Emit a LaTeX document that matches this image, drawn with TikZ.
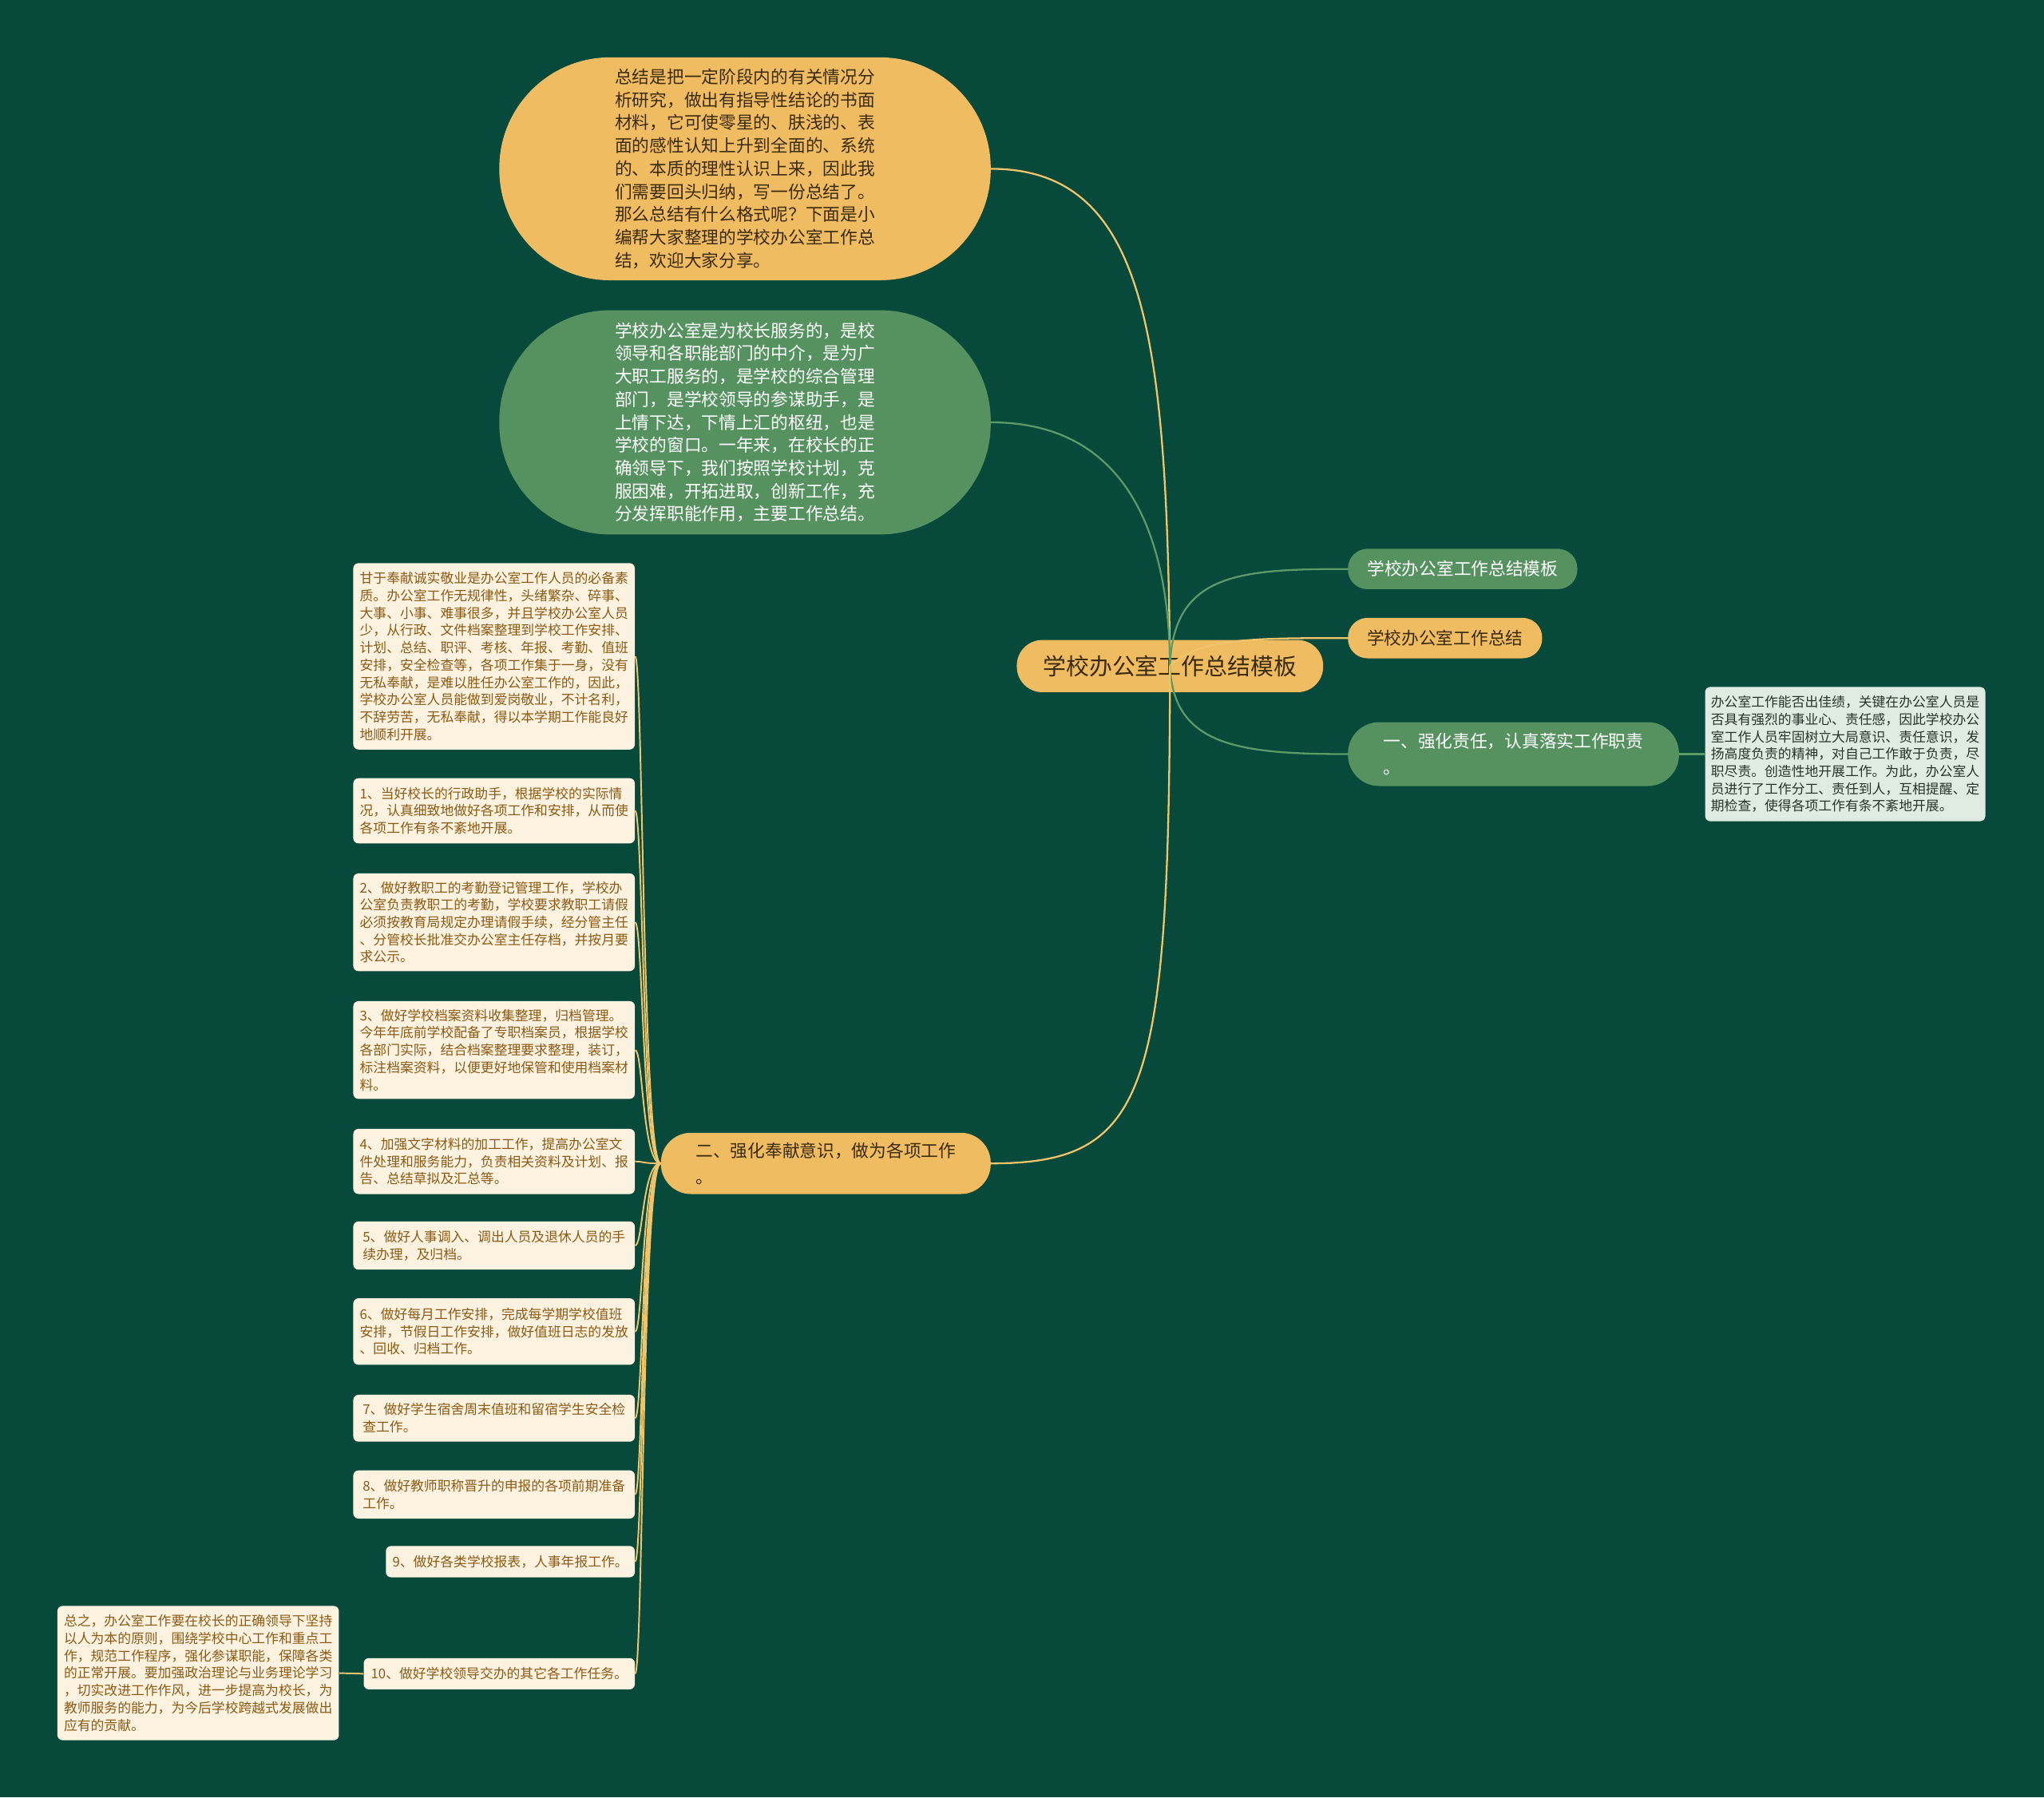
\documentclass[tikz,border=0pt]{standalone}
\usepackage{fontspec}
\setmainfont{Noto Sans CJK SC}
\definecolor{bg}{RGB}{7,73,58}
\definecolor{org}{RGB}{240,188,98}
\definecolor{grn}{RGB}{86,146,96}
\definecolor{cream}{RGB}{252,242,224}
\definecolor{brown}{RGB}{140,90,20}
\definecolor{dk}{RGB}{58,42,14}
\definecolor{note}{RGB}{224,236,226}
\definecolor{notetxt}{RGB}{40,52,42}
\definecolor{oline}{RGB}{240,196,106}
\definecolor{gline}{RGB}{92,154,104}
\newcommand\fsz[2]{\fontsize{#1}{#2}\selectfont}
\begin{document}
\begin{tikzpicture}[x=1pt,y=-1pt,
  pill/.style={draw=none,align=left,inner sep=0pt},
  leaf/.style={fill=cream,rounded corners=4pt,align=left,inner sep=0pt,text=brown,font=\fsz{10.3}{13.3}},
  oedge/.style={draw=oline,line width=1.4pt},
  gedge/.style={draw=gline,line width=1.4pt},
  ledge/.style={draw=oline,line width=1.2pt}]
\fill[bg] (0,0) rectangle (1568,1379);
\useasboundingbox (0,0) rectangle (1568,1379);

% top bubbles
\node[pill,fill=org,text=dk,minimum width=377pt,minimum height=171pt,rounded corners=85pt,font=\fsz{13.3}{17.6}] (b1) at (571.5,129.5) {总结是把一定阶段内的有关情况分\\析研究，做出有指导性结论的书面\\材料，它可使零星的、肤浅的、表\\面的感性认知上升到全面的、系统\\的、本质的理性认识上来，因此我\\们需要回头归纳，写一份总结了。\\那么总结有什么格式呢？下面是小\\编帮大家整理的学校办公室工作总\\结，欢迎大家分享。};
\node[pill,fill=grn,text=white,minimum width=377pt,minimum height=172pt,rounded corners=85pt,font=\fsz{13.3}{17.6}] (b2) at (571.5,324) {学校办公室是为校长服务的，是校\\领导和各职能部门的中介，是为广\\大职工服务的，是学校的综合管理\\部门，是学校领导的参谋助手，是\\上情下达，下情上汇的枢纽，也是\\学校的窗口。一年来，在校长的正\\确领导下，我们按照学校计划，克\\服困难，开拓进取，创新工作，充\\分发挥职能作用，主要工作总结。};

% root
\node[pill,fill=org,text=dk,minimum width=235pt,minimum height=40pt,rounded corners=19.5pt,font=\fsz{17.7}{20}] (root) at (897.5,511) {学校办公室工作总结模板};

% right nodes
\node[pill,fill=grn,text=white,minimum width=176pt,minimum height=31pt,rounded corners=15pt,font=\fsz{13.3}{17}] (A) at (1122,436.5) {学校办公室工作总结模板};
\node[pill,fill=org,text=dk,minimum width=149pt,minimum height=31pt,rounded corners=15pt,font=\fsz{13.3}{17}] (B) at (1108.5,489.5) {学校办公室工作总结};
\node[pill,fill=grn,text=white,minimum width=254pt,minimum height=49pt,rounded corners=24pt,font=\fsz{13.3}{20}] (C) at (1161,578.5) {一、强化责任，认真落实工作职责\\。};
\node[fill=note,rounded corners=4pt,align=left,inner sep=0pt,text=notetxt,font=\fsz{10.3}{13.3},minimum width=215pt,minimum height=103pt] (C1) at (1415.5,578.5) {办公室工作能否出佳绩，关键在办公室人员是\\否具有强烈的事业心、责任感，因此学校办公\\室工作人员牢固树立大局意识、责任意识，发\\扬高度负责的精神，对自己工作敢于负责，尽\\职尽责。创造性地开展工作。为此，办公室人\\员进行了工作分工、责任到人，互相提醒、定\\期检查，使得各项工作有条不紊地开展。};

% left node
\node[pill,fill=org,text=dk,minimum width=253pt,minimum height=47pt,rounded corners=23pt,font=\fsz{13.3}{20}] (D) at (633.5,892.5) {二、强化奉献意识，做为各项工作\\。};

% leaves
\node[leaf,minimum width=216pt,minimum height=143pt] (L0) at (379,503.5) {甘于奉献诚实敬业是办公室工作人员的必备素\\质。办公室工作无规律性，头绪繁杂、碎事、\\大事、小事、难事很多，并且学校办公室人员\\少，从行政、文件档案整理到学校工作安排、\\计划、总结、职评、考核、年报、考勤、值班\\安排，安全检查等，各项工作集于一身，没有\\无私奉献，是难以胜任办公室工作的，因此，\\学校办公室人员能做到爱岗敬业，不计名利，\\不辞劳苦，无私奉献，得以本学期工作能良好\\地顺利开展。};
\node[leaf,minimum width=216pt,minimum height=50pt] (L1) at (379,622) {1、当好校长的行政助手，根据学校的实际情\\况，认真细致地做好各项工作和安排，从而使\\各项工作有条不紊地开展。};
\node[leaf,minimum width=216pt,minimum height=75pt] (L2) at (379,707.5) {2、做好教职工的考勤登记管理工作，学校办\\公室负责教职工的考勤，学校要求教职工请假\\必须按教育局规定办理请假手续，经分管主任\\、分管校长批准交办公室主任存档，并按月要\\求公示。};
\node[leaf,minimum width=216pt,minimum height=75pt] (L3) at (379,805.5) {3、做好学校档案资料收集整理，归档管理。\\今年年底前学校配备了专职档案员，根据学校\\各部门实际，结合档案整理要求整理，装订，\\标注档案资料，以便更好地保管和使用档案材\\料。};
\node[leaf,minimum width=216pt,minimum height=50pt] (L4) at (379,891) {4、加强文字材料的加工工作，提高办公室文\\件处理和服务能力，负责相关资料及计划、报\\告、总结草拟及汇总等。};
\node[leaf,minimum width=216pt,minimum height=37pt] (L5) at (379,955.5) {5、做好人事调入、调出人员及退休人员的手\\续办理，及归档。};
\node[leaf,minimum width=216pt,minimum height=51pt] (L6) at (379,1021.5) {6、做好每月工作安排，完成每学期学校值班\\安排，节假日工作安排，做好值班日志的发放\\、回收、归档工作。};
\node[leaf,minimum width=216pt,minimum height=36pt] (L7) at (379,1088) {7、做好学生宿舍周末值班和留宿学生安全检\\查工作。};
\node[leaf,minimum width=216pt,minimum height=37pt] (L8) at (379,1146.5) {8、做好教师职称晋升的申报的各项前期准备\\工作。};
\node[leaf,minimum width=191pt,minimum height=24pt] (L9) at (391.5,1198) {9、做好各类学校报表，人事年报工作。};
\node[leaf,minimum width=208pt,minimum height=24pt] (L10) at (383,1284) {10、做好学校领导交办的其它各工作任务。};
\node[leaf,minimum width=216pt,minimum height=103pt] (L11) at (152,1283.5) {总之，办公室工作要在校长的正确领导下坚持\\以人为本的原则，围绕学校中心工作和重点工\\作，规范工作程序，强化参谋职能，保障各类\\的正常开展。要加强政治理论与业务理论学习\\，切实改进工作作风，进一步提高为校长，为\\教师服务的能力，为今后学校跨越式发展做出\\应有的贡献。};

% connectors from root
\draw[oedge] (root.center) .. controls (895,260) and (880,129.5) .. (b1.east);
\draw[gedge] (root.center) .. controls (897,420) and (870,324) .. (b2.east);
\draw[gedge] (root.center) .. controls (900,440) and (950,436.5) .. (A.west);
\draw[oedge] (root.center) .. controls (920,489.5) and (960,489.5) .. (B.west);
\draw[gedge] (root.center) .. controls (900,572) and (950,578.5) .. (C.west);
\draw[oedge] (root.center) .. controls (897,840) and (880,892.5) .. (D.east);
\draw[gedge] (C.east) -- (C1.west);

% connectors from D to leaves
\foreach \n in {L0,L1,L2,L3,L4,L5,L6,L7,L8,L9,L10}{
  \draw[ledge] (D.west) .. controls +(-14,0) and +(6,0) .. (\n.east);
}
\draw[ledge] (L10.west) -- (L11.east);
\end{tikzpicture}
\end{document}
